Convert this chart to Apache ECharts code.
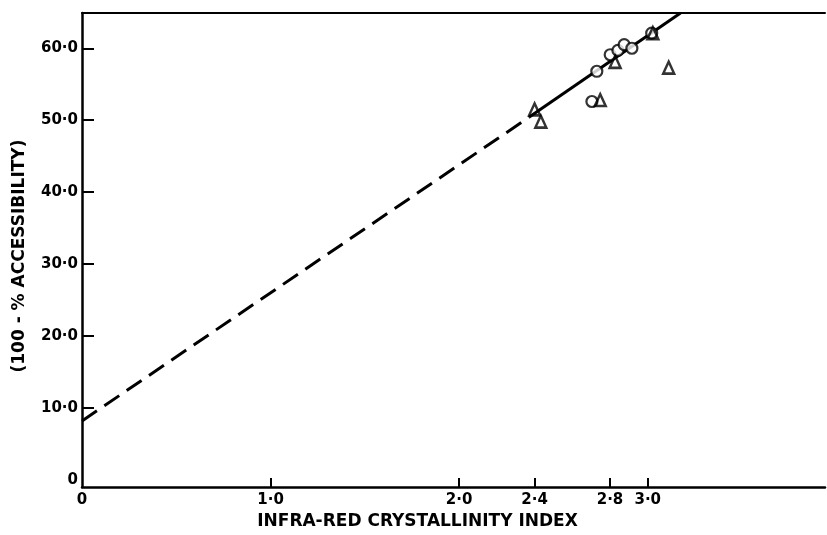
<!DOCTYPE html>
<html>
<head>
<meta charset="utf-8">
<script src="https://cdn.jsdelivr.net/npm/echarts@6/dist/echarts.min.js"></script>
<style>
  html, body { margin: 0; padding: 0; background: #fff; }
  #chart { width: 827px; height: 535px; }
</style>
</head>
<body>
<div id="chart"></div>
<script>
// Circles: [infra-red crystallinity index, 100 - % accessibility]
const circlePoints = [
  [2.704, 52.6],
  [2.730, 56.8],
  [2.801, 59.1],
  [2.842, 59.7],
  [2.875, 60.5],
  [2.916, 60.0],
  [3.021, 62.1]
];
// Triangles
const trianglePoints = [
  [2.400, 51.5],
  [2.433, 49.8],
  [2.748, 52.8],
  [2.827, 58.1],
  [3.027, 62.1],
  [3.111, 57.3]
];
// Fitted line: extrapolated (dashed) part and measured-range (solid) part
const dashedLine = [[0, 8.2], [2.37, 50.4]];
const solidLine = [[2.37, 50.4], [3.174, 64.9]];

// Axis tick and label positions
const xTickValues = [1.0, 2.0, 2.4, 2.8, 3.0];
const xLabelValues = [0, 1.0, 2.0, 2.4, 2.8, 3.0];
const yTickValues = [10, 20, 30, 40, 50, 60];
const yLabelValues = [0, 10, 20, 30, 40, 50, 60];

const fmt = v => (v === 0 ? '0' : v.toFixed(1).replace('.', '\u00B7'));
const FONT = 'DejaVu Sans';

const chart = echarts.init(document.getElementById('chart'));
chart.setOption({
  animation: false,
  backgroundColor: '#fff',
  grid: { left: 82, right: 2, top: 13, bottom: 45 },
  xAxis: [{
    type: 'value', min: 0, max: 3.94,
    name: 'INFRA-RED CRYSTALLINITY INDEX',
    nameLocation: 'middle', nameGap: 25,
    nameTextStyle: { fontFamily: FONT, fontWeight: 'bold', fontSize: 17, color: '#000', padding: [0, 72, 0, 0] },
    axisLine: { onZero: false, lineStyle: { color: '#000', width: 2.5 } },
    axisTick: { show: true, inside: true, length: 9, customValues: xTickValues, lineStyle: { color: '#000', width: 2 } },
    axisLabel: { customValues: xLabelValues, formatter: fmt, margin: 6, fontFamily: FONT, fontWeight: 'bold', fontSize: 15, color: '#000' },
    splitLine: { show: false }
  }, {
    type: 'value', min: 0, max: 3.94, position: 'top',
    axisLine: { onZero: false, lineStyle: { color: '#000', width: 2 } },
    axisTick: { show: false }, axisLabel: { show: false }, splitLine: { show: false }
  }],
  yAxis: {
    type: 'value', min: -1, max: 64.9,
    name: '(100 - % ACCESSIBILITY)',
    nameLocation: 'middle', nameGap: 54, nameRotate: 90,
    nameTextStyle: { fontFamily: FONT, fontWeight: 'bold', fontSize: 17, color: '#000', padding: [0, 12, 0, 0] },
    axisLine: { onZero: false, lineStyle: { color: '#000', width: 2.5 } },
    axisTick: { show: true, inside: true, length: 12, customValues: yTickValues, lineStyle: { color: '#000', width: 2 } },
    axisLabel: { customValues: yLabelValues, formatter: fmt, margin: 4, fontFamily: FONT, fontWeight: 'bold', fontSize: 15, color: '#000' },
    splitLine: { show: false }
  },
  series: [
    {
      type: 'line', data: dashedLine, symbol: 'none', z: 2,
      lineStyle: { color: '#000', width: 3, type: [18, 9] }
    },
    {
      type: 'line', data: solidLine, symbol: 'none', z: 2,
      lineStyle: { color: '#000', width: 3 }
    },
    {
      type: 'scatter', data: circlePoints, symbol: 'circle', symbolSize: 11, z: 3,
      itemStyle: { color: '#fff', borderColor: '#000', borderWidth: 2.2 }
    },
    {
      type: 'scatter', data: trianglePoints, symbol: 'triangle', symbolSize: [11, 12], z: 4,
      itemStyle: { color: 'rgba(0,0,0,0)', borderColor: '#000', borderWidth: 2.5 }
    }
  ]
});
</script>
</body>
</html>
